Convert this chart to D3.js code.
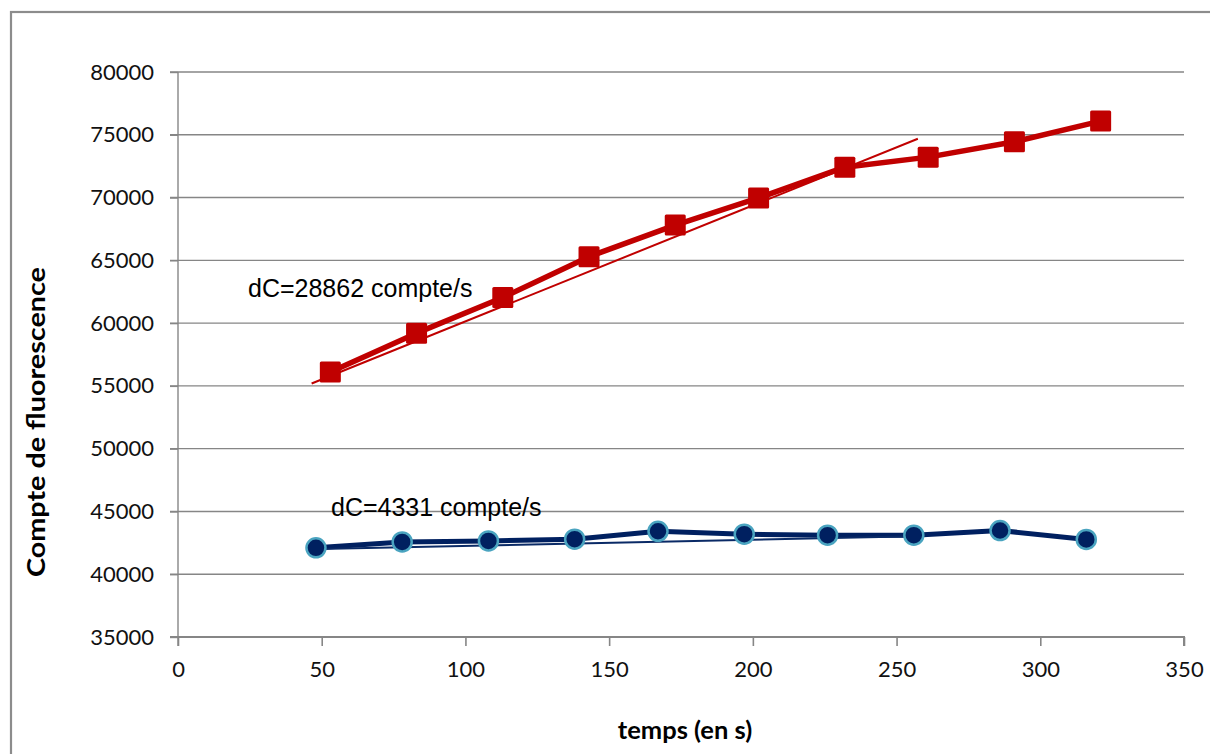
<!DOCTYPE html>
<html>
<head>
<meta charset="utf-8">
<script src="https://cdn.jsdelivr.net/npm/d3@7"></script>
<style>
  html, body { margin: 0; padding: 0; background: #ffffff; }
  svg { display: block; }
</style>
</head>
<body>
<svg id="chart" width="1210" height="754"></svg>
<script>
// ---- data ----
const redTimes  = [53, 83, 113, 143, 173, 202, 232, 261, 291, 321];
const redCounts = [56110, 59200, 62040, 65290, 67810, 69970, 72420, 73220, 74450, 76090];
const blueTimes  = [48, 78, 108, 138, 167, 197, 226, 256, 286, 316];
const blueCounts = [42100, 42570, 42650, 42790, 43420, 43190, 43110, 43110, 43480, 42770];
const redTrendX = [46.5, 257.4];
const redTrendY = [55190, 74680];
const blueTrendX = [45, 256.4];
const blueTrendY = [41990, 43030];
const xTicks = [0, 50, 100, 150, 200, 250, 300, 350];
const yTicks = [35000, 40000, 45000, 50000, 55000, 60000, 65000, 70000, 75000, 80000];
const redLabel = "dC=28862 compte/s";
const blueLabel = "dC=4331 compte/s";
const xTitle = "temps (en s)";
const yTitle = "Compte de fluorescence";

// ---- layout ----
const svg = d3.select("#chart");
svg.append("rect").attr("width", 1210).attr("height", 754).attr("fill", "#ffffff");
svg.append("rect").attr("x", 11).attr("y", 12).attr("width", 1250).attr("height", 800)
  .attr("fill", "none").attr("stroke", "#8c8c8c").attr("stroke-width", 2.2);

const x = d3.scaleLinear().domain([0, 350]).range([178, 1184]);
const y = d3.scaleLinear().domain([35000, 80000]).range([637, 72]);
const gridColor = "#868686";
const tickFont = "Lato, 'Open Sans', sans-serif";

// gridlines
svg.append("g").selectAll("line").data(yTicks.filter(d => d !== 35000)).join("line")
  .attr("x1", 170).attr("x2", x(350))
  .attr("y1", d => y(d)).attr("y2", d => y(d))
  .attr("stroke", gridColor).attr("stroke-width", 1.4);

// y axis
const yAxis = svg.append("g").attr("transform", `translate(${x(0)},0)`)
  .call(d3.axisLeft(y).tickValues(yTicks).tickSize(8).tickPadding(16).tickFormat(d3.format("d")));
yAxis.select(".domain").attr("stroke", gridColor).attr("stroke-width", 1.4).attr("d", `M0,${y(80000)}V${y(35000) + 9}`);
yAxis.selectAll(".tick line").attr("stroke", gridColor).attr("stroke-width", 1.4);
yAxis.selectAll(".tick text").attr("font-family", tickFont).attr("font-size", 22).attr("fill", "#111");

// x axis
const xAxis = svg.append("g").attr("transform", `translate(0,${y(35000)})`)
  .call(d3.axisBottom(x).tickValues(xTicks).tickSize(9).tickPadding(15).tickFormat(d3.format("d")));
xAxis.select(".domain").attr("stroke", gridColor).attr("stroke-width", 2).attr("d", `M${x(0) - 8},0H${x(350)}V9`);
xAxis.selectAll(".tick line").attr("stroke", gridColor).attr("stroke-width", 1.6);
xAxis.selectAll(".tick text").attr("font-family", tickFont).attr("font-size", 22).attr("fill", "#111");

// axis titles
svg.append("text").attr("x", 685).attr("y", 739).attr("text-anchor", "middle")
  .attr("font-family", tickFont).attr("font-weight", "bold").attr("font-size", 25.5).attr("fill", "#000")
  .text(xTitle);
svg.append("text").attr("transform", "translate(45,422) rotate(-90)").attr("text-anchor", "middle")
  .attr("font-family", tickFont).attr("font-weight", "bold").attr("font-size", 25.5).attr("fill", "#000")
  .attr("textLength", 310).attr("lengthAdjust", "spacingAndGlyphs")
  .text(yTitle);

const line = d3.line().x(d => x(d[0])).y(d => y(d[1]));
const red = redTimes.map((t, i) => [t, redCounts[i]]);
const blue = blueTimes.map((t, i) => [t, blueCounts[i]]);

// blue series
svg.append("path").datum(blue).attr("d", line).attr("fill", "none")
  .attr("stroke", "#002060").attr("stroke-width", 5).attr("stroke-linejoin", "round");
svg.append("path").datum(blueTrendX.map((t, i) => [t, blueTrendY[i]])).attr("d", line).attr("fill", "none")
  .attr("stroke", "#0a2a66").attr("stroke-width", 2);
svg.append("g").selectAll("circle").data(blue).join("circle")
  .attr("cx", d => x(d[0])).attr("cy", d => y(d[1])).attr("r", 9.5)
  .attr("fill", "#002060").attr("stroke", "#4aa4c0").attr("stroke-width", 2.5);

// red series
svg.append("path").datum(red).attr("d", line).attr("fill", "none")
  .attr("stroke", "#c00000").attr("stroke-width", 5.5).attr("stroke-linejoin", "round");
svg.append("path").datum(redTrendX.map((t, i) => [t, redTrendY[i]])).attr("d", line).attr("fill", "none")
  .attr("stroke", "#c00000").attr("stroke-width", 2);
svg.append("g").selectAll("rect").data(red).join("rect")
  .attr("x", d => x(d[0]) - 10.5).attr("y", d => y(d[1]) - 10.5)
  .attr("width", 21).attr("height", 21).attr("rx", 1.5)
  .attr("fill", "#c00000");

// annotations
svg.append("text").attr("x", 248).attr("y", 297)
  .attr("font-family", "'Liberation Sans', Arial, sans-serif").attr("font-size", 25).attr("fill", "#000")
  .text(redLabel);
svg.append("text").attr("x", 331).attr("y", 516)
  .attr("font-family", "'Liberation Sans', Arial, sans-serif").attr("font-size", 25).attr("fill", "#000")
  .text(blueLabel);
</script>
</body>
</html>
